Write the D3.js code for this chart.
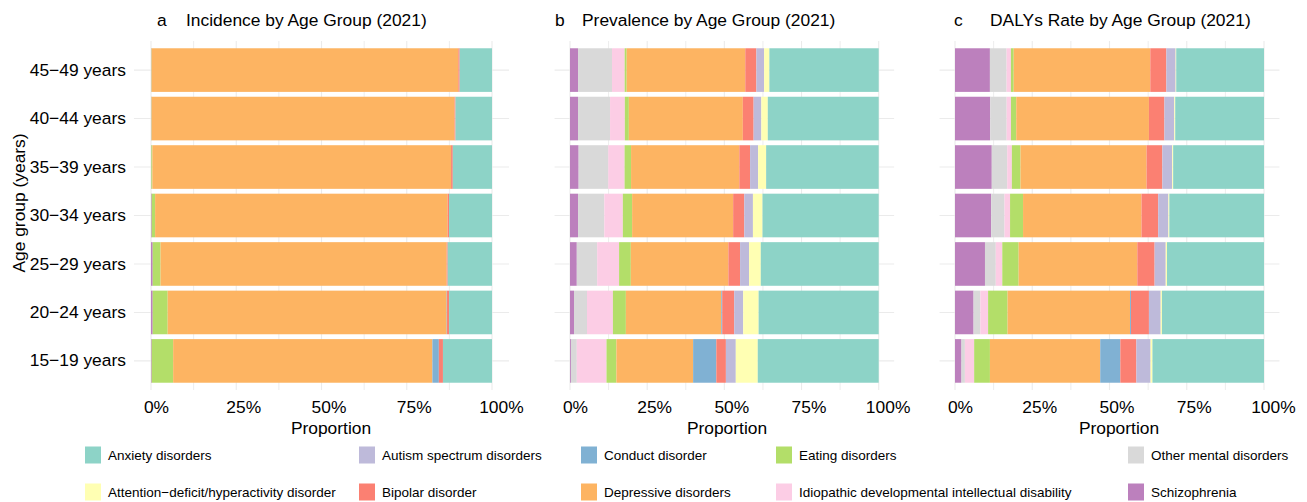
<!DOCTYPE html>
<html>
<head>
<meta charset="utf-8">
<script src="https://cdn.jsdelivr.net/npm/d3@7"></script>
<style>
  html, body { margin: 0; padding: 0; background: #ffffff; }
  svg { display: block; font-family: "Liberation Sans", Arial, Helvetica, sans-serif; }
</style>
</head>
<body>
<script>
// Age groups, bottom to top
const ages = ["15\u221219 years", "20\u221224 years", "25\u221229 years", "30\u221234 years",
              "35\u221239 years", "40\u221244 years", "45\u221249 years"];

// Causes in legend (alphabetical) order
const causes = [
  "Anxiety disorders",
  "Attention\u2212deficit/hyperactivity disorder",
  "Autism spectrum disorders",
  "Bipolar disorder",
  "Conduct disorder",
  "Depressive disorders",
  "Eating disorders",
  "Idiopathic developmental intellectual disability",
  "Other mental disorders",
  "Schizophrenia"
];

// Set3-style fill for each cause
const causeColors = ["#8DD3C7", "#FFFFB3", "#BEBADA", "#FB8072", "#80B1D3",
                     "#FDB462", "#B3DE69", "#FCCDE5", "#D9D9D9", "#BC80BD"];

// Share of each cause per age group (rows follow `causes`, columns follow `ages`)
const incidenceShares = [
  [0.144, 0.126, 0.130, 0.126, 0.115, 0.107, 0.095], // Anxiety
  [0, 0, 0, 0, 0, 0, 0],                             // ADHD
  [0, 0, 0, 0, 0, 0, 0],                             // Autism
  [0.012, 0.006, 0.003, 0.004, 0.005, 0.003, 0.004], // Bipolar
  [0.019, 0.001, 0, 0, 0, 0, 0],                     // Conduct
  [0.761, 0.819, 0.839, 0.858, 0.876, 0.888, 0.901], // Depressive
  [0.063, 0.044, 0.023, 0.010, 0.003, 0.001, 0.001], // Eating
  [0, 0, 0, 0, 0, 0, 0],                             // Idiopathic IDD
  [0, 0, 0, 0, 0, 0, 0],                             // Other
  [0.002, 0.005, 0.005, 0.002, 0.001, 0.001, 0.001]  // Schizophrenia
];

const prevalenceShares = [
  [0.391, 0.389, 0.382, 0.376, 0.365, 0.360, 0.354],
  [0.071, 0.050, 0.038, 0.031, 0.026, 0.021, 0.017],
  [0.032, 0.029, 0.029, 0.028, 0.026, 0.025, 0.025],
  [0.031, 0.039, 0.038, 0.036, 0.035, 0.035, 0.036],
  [0.075, 0.003, 0, 0, 0, 0, 0],
  [0.248, 0.309, 0.316, 0.327, 0.351, 0.370, 0.384],
  [0.032, 0.042, 0.038, 0.030, 0.021, 0.013, 0.0065],
  [0.096, 0.084, 0.071, 0.060, 0.053, 0.048, 0.041],
  [0.019, 0.042, 0.066, 0.085, 0.096, 0.104, 0.110],
  [0.003, 0.013, 0.022, 0.026, 0.028, 0.026, 0.026]
];

const dalyShares = [
  [0.361, 0.330, 0.314, 0.306, 0.294, 0.287, 0.284],
  [0.006, 0.004, 0.004, 0.003, 0.003, 0.003, 0.002],
  [0.046, 0.038, 0.036, 0.033, 0.032, 0.032, 0.030],
  [0.052, 0.058, 0.056, 0.054, 0.051, 0.050, 0.052],
  [0.065, 0.003, 0, 0, 0, 0, 0],
  [0.357, 0.396, 0.384, 0.383, 0.408, 0.429, 0.442],
  [0.051, 0.063, 0.053, 0.042, 0.028, 0.017, 0.009],
  [0.030, 0.025, 0.021, 0.018, 0.015, 0.014, 0.014],
  [0.011, 0.022, 0.035, 0.043, 0.050, 0.053, 0.054],
  [0.021, 0.060, 0.097, 0.117, 0.119, 0.114, 0.113]
];

const xTicks = [0, 0.25, 0.5, 0.75, 1];
const xMinorTicks = [0.125, 0.375, 0.625, 0.875];

// ---- layout ----
const W = 1307, H = 502;
const FS = 17.4;
const panelTop = 41, panelBottom = 390;
const gridColor = "#EBEBEB";

const panels = [
  { tag: "a", title: "Incidence by Age Group (2021)",  shares: incidenceShares,
    x0: 151, x1: 492,   tagX: 157, titleX: 186, axisTitleX: 331, showY: true },
  { tag: "b", title: "Prevalence by Age Group (2021)", shares: prevalenceShares,
    x0: 570, x1: 878.7, tagX: 555, titleX: 582, axisTitleX: 727, showY: false },
  { tag: "c", title: "DALYs Rate by Age Group (2021)", shares: dalyShares,
    x0: 955, x1: 1264,  tagX: 954, titleX: 990, axisTitleX: 1119, showY: false }
];

const color = d3.scaleOrdinal().domain(causes).range(causeColors);

const svg = d3.select("body").append("svg")
  .attr("width", W).attr("height", H);

const y = d3.scaleBand()
  .domain(ages.slice().reverse())
  .range([panelTop, panelBottom])
  .paddingInner(0.1)
  .paddingOuter(0.15);

// Leftmost segment is the last cause, so stack in reverse legend order
const stackKeys = causes.slice().reverse();
const stack = d3.stack().keys(stackKeys).offset(d3.stackOffsetExpand);

panels.forEach(p => {
  const rows = ages.map((age, i) => {
    const r = { age };
    causes.forEach((c, k) => { r[c] = p.shares[k][i]; });
    return r;
  });

  const x = d3.scaleLinear().domain([0, 1]).range([p.x0, p.x1]);
  const left = x(-0.05), right = x(1.05);
  const g = svg.append("g");

  // grid
  g.append("g").selectAll("line.minor").data(xMinorTicks).join("line")
    .attr("x1", d => x(d)).attr("x2", d => x(d))
    .attr("y1", panelTop).attr("y2", panelBottom)
    .attr("stroke", gridColor).attr("stroke-width", 0.9);
  g.append("g").selectAll("line.major").data(xTicks).join("line")
    .attr("x1", d => x(d)).attr("x2", d => x(d))
    .attr("y1", panelTop).attr("y2", panelBottom)
    .attr("stroke", gridColor).attr("stroke-width", 1.1);
  g.append("g").selectAll("line.h").data(ages).join("line")
    .attr("x1", left).attr("x2", right)
    .attr("y1", d => y(d) + y.bandwidth() / 2).attr("y2", d => y(d) + y.bandwidth() / 2)
    .attr("stroke", gridColor).attr("stroke-width", 1.1);

  // stacked bars
  const series = stack(rows);
  g.append("g").selectAll("g").data(series).join("g")
    .attr("fill", s => color(s.key))
    .selectAll("rect").data(s => s).join("rect")
      .attr("x", d => x(d[0]))
      .attr("width", d => Math.max(0, x(d[1]) - x(d[0])))
      .attr("y", d => y(d.data.age))
      .attr("height", y.bandwidth());

  // x axis
  const xAxis = g.append("g")
    .attr("transform", `translate(0,${panelBottom})`)
    .call(d3.axisBottom(x).tickValues(xTicks).tickFormat(d3.format(".0%")).tickSize(0).tickPadding(11));
  xAxis.select(".domain").remove();
  xAxis.selectAll("text")
    .attr("font-size", FS).attr("fill", "#000")
    .attr("font-family", "Liberation Sans, Arial, sans-serif")
    .each(function () {
      const w = this.getComputedTextLength();
      d3.select(this).attr("dx", (0.2 * w).toFixed(1));
    });

  g.append("text")
    .attr("x", p.axisTitleX).attr("y", 434)
    .attr("text-anchor", "middle")
    .attr("font-size", FS).attr("fill", "#000")
    .text("Proportion");

  // y axis
  if (p.showY) {
    const yAxis = g.append("g")
      .attr("transform", `translate(${left},0)`)
      .call(d3.axisLeft(y).tickSize(0).tickPadding(8));
    yAxis.select(".domain").remove();
    yAxis.selectAll("text")
      .attr("font-size", FS).attr("fill", "#000")
      .attr("font-family", "Liberation Sans, Arial, sans-serif");

    g.append("text")
      .attr("transform", "translate(25,203) rotate(-90)")
      .attr("text-anchor", "middle")
      .attr("font-size", FS).attr("fill", "#000")
      .text("Age group (years)");
  }

  // tag + title
  g.append("text").attr("x", p.tagX).attr("y", 25.5)
    .attr("font-size", FS).attr("fill", "#000").text(p.tag);
  g.append("text").attr("x", p.titleX).attr("y", 25.5)
    .attr("font-size", FS).attr("fill", "#000").text(p.title);
});

// ---- legend: 2 rows, filled column by column ----
const legendColX = [85, 359, 581, 776, 1128];
const legendRowY = [455, 492];
const keyW = 16, keyH = 17;
const legend = svg.append("g");
causes.forEach((c, i) => {
  const col = Math.floor(i / 2), row = i % 2;
  const gx = legendColX[col], gy = legendRowY[row];
  legend.append("rect")
    .attr("x", gx).attr("y", gy - keyH / 2)
    .attr("width", keyW).attr("height", keyH)
    .attr("fill", color(c));
  legend.append("text")
    .attr("x", gx + 23).attr("y", gy)
    .attr("dy", "0.35em")
    .attr("font-size", 13.5).attr("fill", "#000")
    .text(c);
});
</script>
</body>
</html>
